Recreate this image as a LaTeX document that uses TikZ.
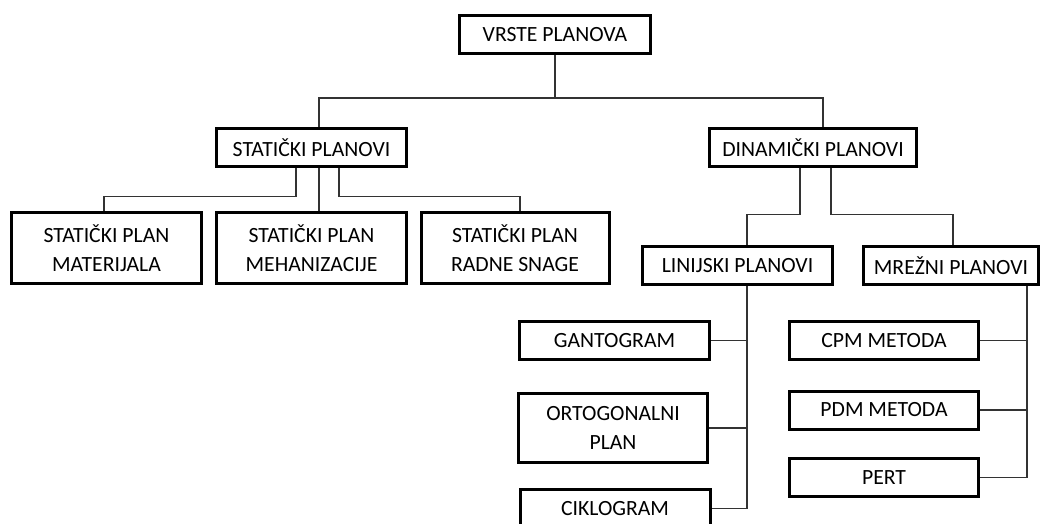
\documentclass[tikz,border=0pt]{standalone}
\usepackage{fontspec}
\setmainfont{Carlito}
\tikzset{
  box/.style={draw=black,line width=3pt,fill=white,minimum height=38pt,
    align=center,inner sep=0pt,font=\fontsize{21.7}{29.5}\selectfont},
  tall/.style={minimum height=71pt},
  line/.style={draw=black!80,line width=1.3pt},
}
\begin{document}
\begin{tikzpicture}[x=1pt,y=-1pt]
\useasboundingbox (0,0) rectangle (1049,523);
% levels 1 and 2
\node[box,minimum width=191pt] (vrste) at (555,34.5) {VRSTE PLANOVA};
\node[box,minimum width=190pt] (staticki) at (311.5,147.5) {STATIČKI PLANOVI};
\node[box,minimum width=207pt] (dinamicki) at (813,147.5) {DINAMIČKI PLANOVI};
% static plans
\node[box,tall,minimum width=190pt] (smat) at (106.5,248) {STATIČKI PLAN\\MATERIJALA};
\node[box,tall,minimum width=190pt] (smeh) at (311.5,248) {STATIČKI PLAN\\MEHANIZACIJE};
\node[box,tall,minimum width=188pt] (srad) at (515,248) {STATIČKI PLAN\\RADNE SNAGE};
% dynamic plans
\node[box,minimum width=190pt] (linijski) at (737.5,265.5) {LINIJSKI PLANOVI};
\node[box,minimum width=175pt] (mrezni) at (951,265.5) {MREŽNI PLANOVI};
\node[box,minimum width=190pt] (gant) at (614.5,340.5) {GANTOGRAM};
\node[box,tall,minimum width=189pt,minimum height=69pt] (orto) at (613,428) {ORTOGONALNI\\PLAN};
\node[box,minimum width=190pt] (cikl) at (615,508.5) {CIKLOGRAM};
\node[box,minimum width=189pt] (cpm) at (884,340.5) {CPM METODA};
\node[box,minimum width=189pt] (pdm) at (884,410) {PDM METODA};
\node[box,minimum width=189pt] (pert) at (884,477.5) {PERT};
% connectors
\coordinate (top) at (555,98);
\draw[line] (vrste.south) -- (top);
\draw[line] ([xshift=7.5pt]staticki.north) |- (top) -| ([xshift=10pt]dinamicki.north);
\draw[line] ([xshift=-15.5pt]staticki.south) -- ++(0,28.5) -| ([xshift=-2.5pt]smat.north);
\draw[line] ([xshift=7.5pt]staticki.south) -- ([xshift=7.5pt]smeh.north);
\draw[line] ([xshift=27.5pt]staticki.south) -- ++(0,28.5) -| ([xshift=5pt]srad.north);
\draw[line] ([xshift=-13pt]dinamicki.south) -- ++(0,46.5) -| ([xshift=9.5pt]linijski.north);
\draw[line] ([xshift=18pt]dinamicki.south) -- ++(0,46.5) -| ([xshift=2pt]mrezni.north);
\coordinate (lt) at ([xshift=9.5pt]linijski.south);
\draw[line] (lt) |- (cikl.east);
\draw[line] (gant.east) -- (gant.east -| lt);
\draw[line] (orto.east) -- (orto.east -| lt);
\coordinate (mt) at ([xshift=76pt]mrezni.south);
\draw[line] (mt) |- (pert.east);
\draw[line] (cpm.east) -- (cpm.east -| mt);
\draw[line] (pdm.east) -- (pdm.east -| mt);
\end{tikzpicture}
\end{document}
